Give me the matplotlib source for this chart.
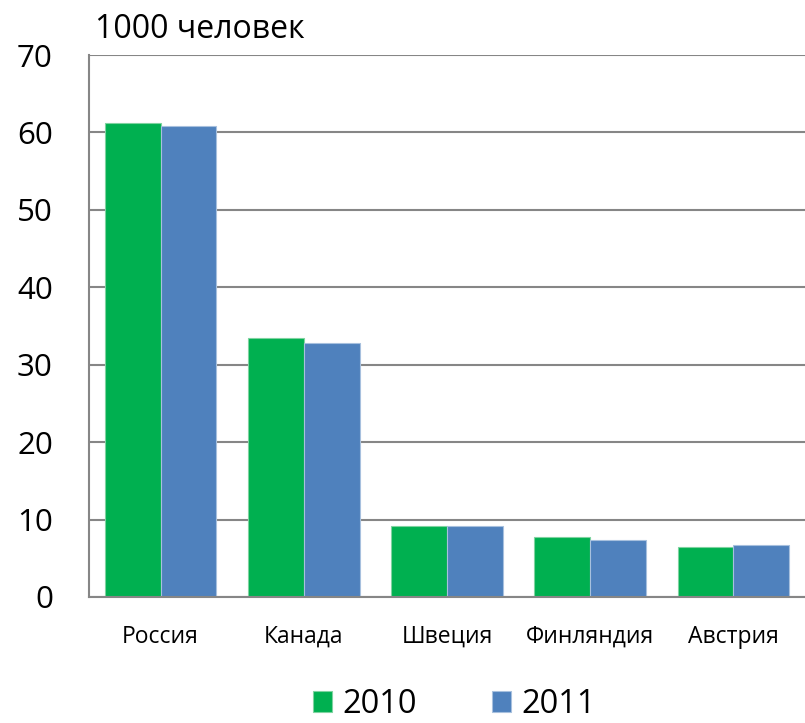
import numpy as np
import matplotlib
matplotlib.use('Agg')
import matplotlib.pyplot as plt

# data
countries = ['Россия', 'Канада', 'Швеция', 'Финляндия', 'Австрия']
years = ['2010', '2011']
values_2010 = [61.2, 33.4, 9.2, 7.7, 6.5]
values_2011 = [60.8, 32.8, 9.2, 7.4, 6.75]

plt.rcParams['font.family'] = ['Open Sans', 'DejaVu Sans']

fig = plt.figure(figsize=(8.05, 7.23), dpi=100)
ax = fig.add_axes([0.1106, 0.1743, 0.8894, 0.7496])

x = np.arange(len(countries))
w = 0.39
ax.bar(x - w / 2, values_2010, w, color='#00B050', edgecolor='#7FD3A0', linewidth=0.8, label=years[0], zorder=3)
ax.bar(x + w / 2, values_2011, w, color='#4F81BD', edgecolor='#A7C0DE', linewidth=0.8, label=years[1], zorder=3)

ax.set_xlim(-0.5, len(countries) - 0.5)
ax.set_ylim(0, 70)
ax.set_yticks(range(0, 71, 10))
ax.set_xticks(x)
ax.set_xticklabels(countries, fontsize=16.5)
ax.tick_params(axis='x', length=0, pad=20)
ax.tick_params(axis='y', length=0, pad=26, labelsize=22.5)

ax.grid(True, axis='y', color='#868686', linewidth=1.5, zorder=0)
for side in ['top', 'right']:
    ax.spines[side].set_visible(False)
for side in ['left', 'bottom']:
    ax.spines[side].set_color('#868686')
    ax.spines[side].set_linewidth(1.5)
    ax.spines[side].set_zorder(4)

fig.text(95 / 805, 1 - 30 / 723, '1000 человек', fontsize=23, va='center', ha='left')

ax.legend(loc='center', bbox_to_anchor=(0.51, -0.198), ncol=2, frameon=False, fontsize=23.5,
          handlelength=0.6, handleheight=0.6, handletextpad=0.3, columnspacing=2.3)

plt.savefig('out.png', dpi=100)
plt.close()
